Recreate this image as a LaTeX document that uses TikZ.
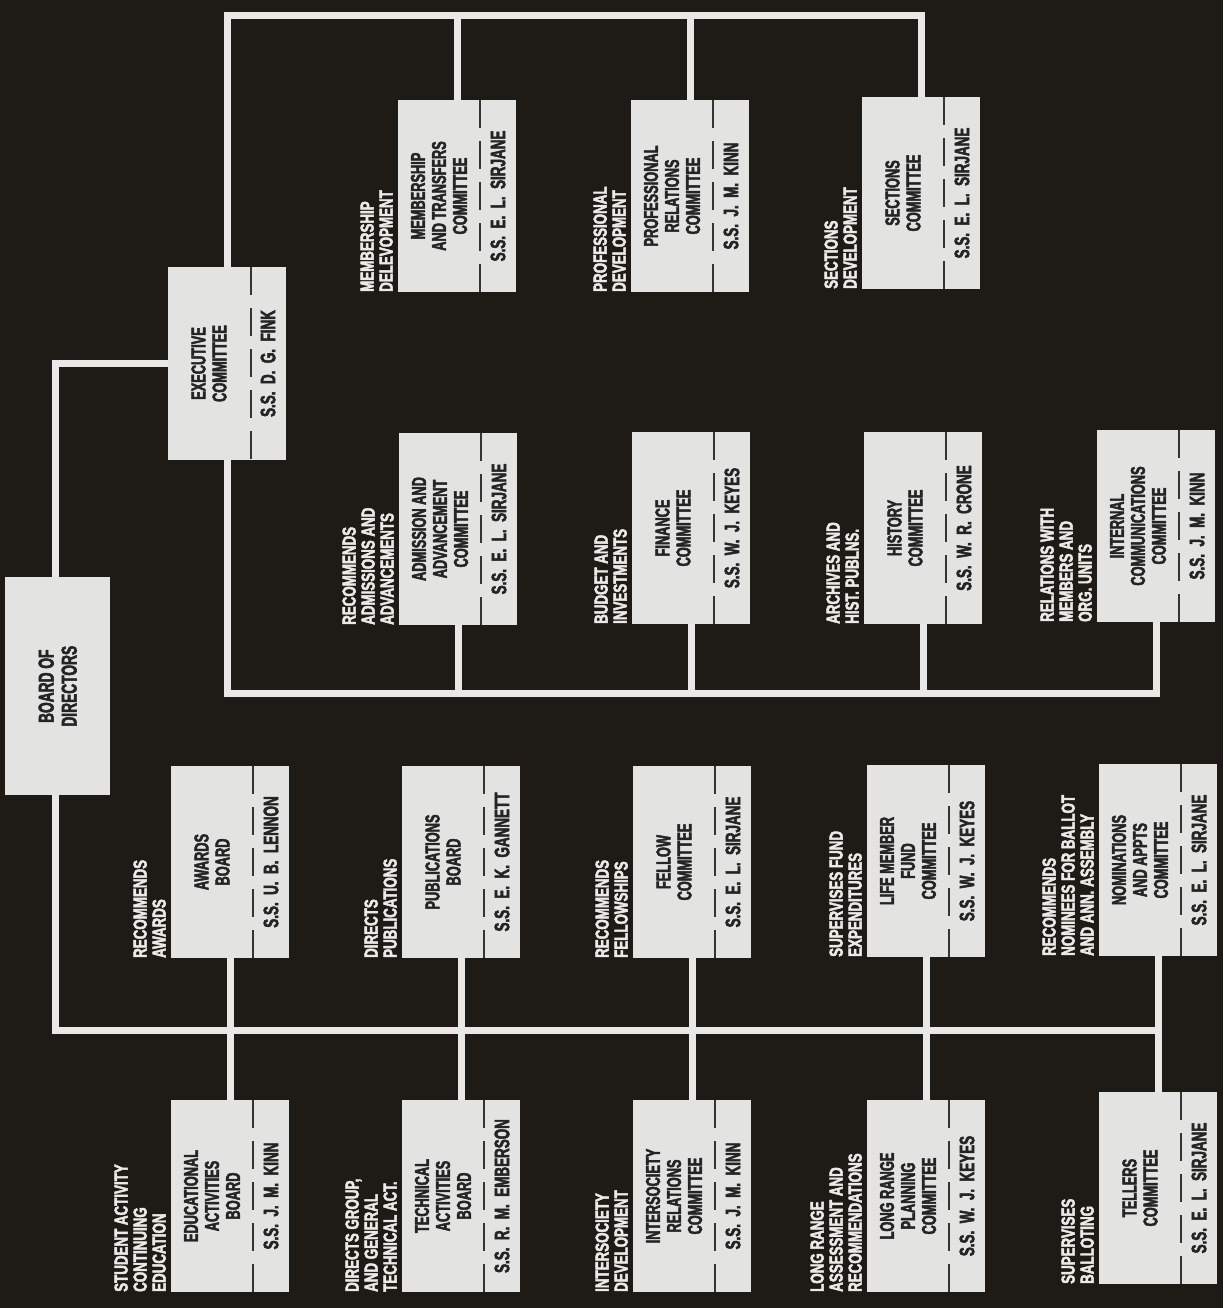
\documentclass[tikz,border=0pt]{standalone}
\usepackage{fontspec}
\newfontfamily\condN{Liberation Sans}[UprightFont={* Bold}, FakeStretch=0.64, FakeBold=2.4]
\newfontfamily\condL{Liberation Sans}[UprightFont={* Bold}, FakeStretch=0.71, FakeBold=2.4]
\definecolor{bg}{HTML}{1E1A15}
\definecolor{boxc}{HTML}{E3E3E1}
\definecolor{linec}{HTML}{E8E8E6}
\definecolor{txtc}{HTML}{242424}
\definecolor{lblc}{HTML}{ECEAE6}
\definecolor{divc}{HTML}{353535}
\tikzset{
  cbox/.style={rectangle, fill=boxc, draw=none, minimum width=118pt, minimum height=192pt, inner sep=0pt, outer sep=0pt},
  divline/.style={draw=divc, line width=2.2pt, dash pattern=on 28pt off 13pt},
  nametxt/.style={rotate=90, align=center, text=txtc, inner sep=0pt, font=\condN\fontsize{20}{21}\selectfont},
  sstxt/.style={rotate=90, align=center, text=txtc, inner sep=0pt, font=\condN\fontsize{21}{24}\selectfont},
  lbltxt/.style={rotate=90, align=left, text=lblc, inner sep=0pt, anchor=south west, font=\condL\fontsize{18.8}{19}\selectfont},
  conn/.style={draw=linec, line width=7pt},
}
\newcommand{\cmte}[6]{%
  \node[cbox, anchor=north west] (#1) at (#2,#3) {};
  \draw[divline] ([xshift=82pt]#1.north west) -- ([xshift=82pt]#1.south west);
  \node[nametxt] (#1-t) at ([xshift=41pt]#1.west) {#4};
  \node[sstxt] (#1-s) at ([xshift=100pt]#1.west) {#5};
  \node[lbltxt] (#1-l) at ([xshift=-5pt]#1.south west) {#6};
}
\begin{document}
\begin{tikzpicture}[x=1pt,y=-1pt]
\useasboundingbox (0,0) rectangle (1223,1308);
\fill[bg] (0,0) rectangle (1223,1308);

% bus coordinates
\coordinate (topY) at (0,16);
\coordinate (midY) at (0,693);
\coordinate (lowY) at (0,1030);

% Board of directors
\node[rectangle, fill=boxc, minimum width=105pt, minimum height=218pt, inner sep=0pt, anchor=north west] (board) at (5,577) {};
\node[nametxt, font=\condN\fontsize{21.5}{23}\selectfont] (board-t) at (board.center) {BOARD OF\\DIRECTORS};

% Executive committee
\node[cbox, minimum height=193pt, anchor=north west] (exec) at (168,267) {};
\draw[divline] ([xshift=83pt]exec.north west) -- ([xshift=83pt]exec.south west);
\node[nametxt] (exec-t) at ([xshift=41pt]exec.west) {EXECUTIVE\\COMMITTEE};
\node[sstxt] (exec-s) at ([xshift=100pt]exec.west) {S.S.~~D.~~G.~~FINK};

% top row
\cmte{memb}{398}{100}{MEMBERSHIP\\AND TRANSFERS\\COMMITTEE}{S.S.~~E.~~L.~~SIRJANE}{MEMBERSHIP\\DELEVOPMENT}
\cmte{prof}{631}{100}{PROFESSIONAL\\RELATIONS\\COMMITTEE}{S.S.~~J.~~M.~~KINN}{PROFESSIONAL\\DEVELOPMENT}
\cmte{sect}{862}{97}{SECTIONS\\COMMITTEE}{S.S.~~E.~~L.~~SIRJANE}{SECTIONS\\DEVELOPMENT}

% middle row
\cmte{adm}{399}{433}{ADMISSION AND\\ADVANCEMENT\\COMMITTEE}{S.S.~~E.~~L.~~SIRJANE}{RECOMMENDS\\ADMISSIONS AND\\ADVANCEMENTS}
\cmte{fin}{632}{432}{FINANCE\\COMMITTEE}{S.S.~~W.~~J.~~KEYES}{BUDGET AND\\INVESTMENTS}
\cmte{hist}{864}{432}{HISTORY\\COMMITTEE}{S.S.~~W.~~R.~~CRONE}{ARCHIVES AND\\HIST. PUBLNS.}
\cmte{intc}{1097}{430}{INTERNAL\\COMMUNICATIONS\\COMMITTEE}{S.S.~~J.~~M.~~KINN}{RELATIONS WITH\\MEMBERS AND\\ORG. UNITS}

% lower upper row
\cmte{awd}{171}{766}{AWARDS\\BOARD}{S.S.~~U.~~B.~~LENNON}{RECOMMENDS\\AWARDS}
\cmte{pub}{402}{766}{PUBLICATIONS\\BOARD}{S.S.~~E.~~K.~~GANNETT}{DIRECTS\\PUBLICATIONS}
\cmte{fel}{633}{766}{FELLOW\\COMMITTEE}{S.S.~~E.~~L.~~SIRJANE}{RECOMMENDS\\FELLOWSHIPS}
\cmte{life}{867}{765}{LIFE MEMBER\\FUND\\COMMITTEE}{S.S.~~W.~~J.~~KEYES}{SUPERVISES FUND\\EXPENDITURES}
\cmte{nom}{1099}{764}{NOMINATIONS\\AND APPTS\\COMMITTEE}{S.S.~~E.~~L.~~SIRJANE}{RECOMMENDS\\NOMINEES FOR BALLOT\\AND ANN. ASSEMBLY}

% bottom row
\cmte{edu}{171}{1100}{EDUCATIONAL\\ACTIVITIES\\BOARD}{S.S.~~J.~~M.~~KINN}{STUDENT ACTIVITY\\CONTINUING\\EDUCATION}
\cmte{tech}{402}{1100}{TECHNICAL\\ACTIVITIES\\BOARD}{S.S.~~R.~~M.~~EMBERSON}{DIRECTS GROUP,\\AND GENERAL\\TECHNICAL ACT.}
\cmte{ints}{633}{1100}{INTERSOCIETY\\RELATIONS\\COMMITTEE}{S.S.~~J.~~M.~~KINN}{INTERSOCIETY\\DEVELOPMENT}
\cmte{lrp}{867}{1100}{LONG RANGE\\PLANNING\\COMMITTEE}{S.S.~~W.~~J.~~KEYES}{LONG RANGE\\ASSESSMENT AND\\RECOMMENDATIONS}
\cmte{tell}{1099}{1092}{TELLERS\\COMMITTEE}{S.S.~~E.~~L.~~SIRJANE}{SUPERVISES\\BALLOTING}

% connectors
\draw[conn] ([xshift=-2pt]board.north) |- (exec.west);
\draw[conn] (exec.north) |- (topY -| sect.north) -- (sect.north);
\draw[conn] (memb.north) -- (memb.north |- topY);
\draw[conn] (prof.north) -- (prof.north |- topY);

\draw[conn] (exec.south) |- (midY -| intc.south) -- (intc.south);
\draw[conn] (adm.south) -- (adm.south |- midY);
\draw[conn] (fin.south) -- (fin.south |- midY);
\draw[conn] (hist.south) -- (hist.south |- midY);

\draw[conn] ([xshift=-2pt]board.south) |- (lowY -| nom.south);
\draw[conn] (nom.south) -- (tell.north);
\draw[conn] (awd.south) -- (edu.north);
\draw[conn] (pub.south) -- (tech.north);
\draw[conn] (fel.south) -- (ints.north);
\draw[conn] (life.south) -- (lrp.north);
\end{tikzpicture}
\end{document}
